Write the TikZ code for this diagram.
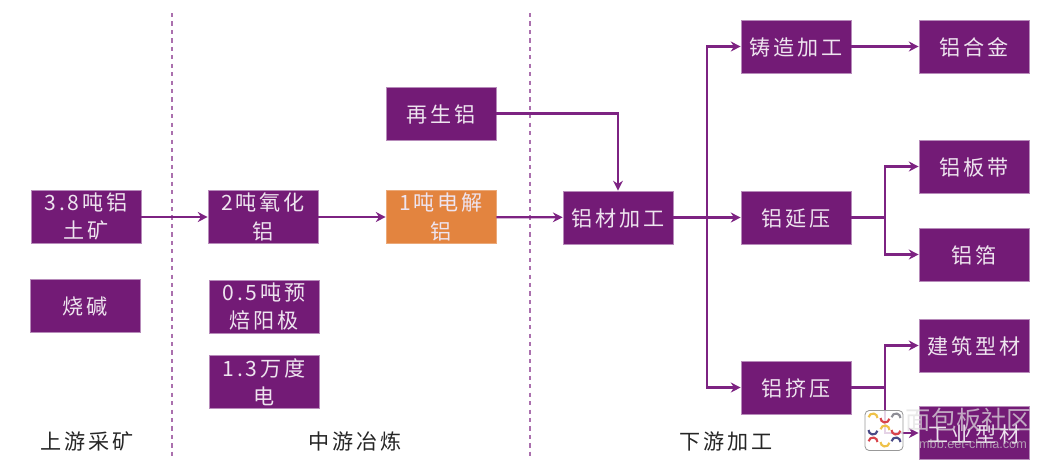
\documentclass[tikz,border=0pt]{standalone}
\usepackage{fontspec}
\newfontfamily\cjk[LetterSpace=14]{Noto Sans CJK SC}
\newfontfamily\cjkplain{Noto Sans CJK SC}
\setmainfont{Liberation Sans}
\usetikzlibrary{arrows.meta}

\definecolor{plum}{HTML}{731B76}
\definecolor{plumline}{HTML}{7D2382}
\definecolor{plumedge}{HTML}{B78BBA}
\definecolor{ingot}{HTML}{E3843F}
\definecolor{markgold}{HTML}{EFC24A}
\definecolor{markred}{HTML}{D8434B}
\definecolor{markgrey}{HTML}{8E8E96}
\definecolor{markblue}{HTML}{4A4A86}

\tikzset{
	box/.style={rectangle, fill=plum, draw=plumedge, line width=.4pt, minimum width=2.75cm, minimum height=1.33cm, inner sep=0pt,
		align=center, text=white!88!plum, font=\cjk\fontsize{15}{20}\selectfont, execute at begin node=\rule{0pt}{14pt}},
	pairbox/.style={box, execute at begin node=\rule{0pt}{16.5pt}},
	hotbox/.style={pairbox, fill=ingot, draw=ingot!70!white},
	stage/.style={text=black!85, font=\cjk\fontsize{15}{18}\selectfont},
	link/.style={draw=plumline, line width=1.6pt, -{Stealth[length=7pt,width=7pt]}},
	wire/.style={draw=plumline, line width=1.6pt}
}

\begin{document}
\begin{tikzpicture}[x=.025cm,y=-.025cm]
	\useasboundingbox (0,0) rectangle (1042,462);

	% dashed stage borders
	\coordinate (topa) at (172,13);
	\coordinate (bota) at (172,458);
	\coordinate (topb) at (530,13);
	\coordinate (botb) at (530,458);
	\draw[plumline!65, line width=1pt, dashed] (topa) -- (bota);
	\draw[plumline!65, line width=1pt, dashed] (topb) -- (botb);

	% upstream
	\node[pairbox] (ore) at (86,216.5) {3.8吨铝\\土矿};
	\node[box] (soda) at (85,306) {烧碱};

	% midstream
	\node[pairbox] (alumina) at (263,217) {2吨氧化\\铝};
	\node[pairbox] (anode) at (264,306.5) {0.5吨预\\焙阳极};
	\node[pairbox] (power) at (264,382) {1.3万度\\电};
	\node[box] (scrap) at (441,113.5) {再生铝};
	\node[hotbox] (electro) at (441,217) {1吨电解\\铝};

	% downstream
	\node[box] (proc) at (618,217.5) {铝材加工};
	\node[box] (cast) at (796,46.5) {铸造加工};
	\node[box] (roll) at (796,217.5) {铝延压};
	\node[box] (extrude) at (796,387.5) {铝挤压};
	\node[box] (alloy) at (974,46.5) {铝合金};
	\node[box] (strip) at (974,166.5) {铝板带};
	\node[box] (foil) at (974,254.5) {铝箔};
	\node[box] (build) at (974,345.5) {建筑型材};
	\node[box] (indust) at (974,433) {工业型材};

	\node[stage] (stagea) at (87,441) {上游采矿};
	\node[stage] (stageb) at (355,441) {中游冶炼};
	\node[stage] (stagec) at (726,441) {下游加工};

	\coordinate (trunk) at (707,217.5);
	\coordinate (forka) at (885,217.5);
	\coordinate (forkb) at (885,387.5);

	\draw[link] (ore.east |- alumina) -- (alumina);
	\draw[link] (alumina) -- (electro);
	\draw[link] (electro) -- (proc);
	\draw[link] (scrap) -| (proc);
	\draw[link] (proc) -- (roll);
	\draw[link] (trunk) |- (cast);
	\draw[link] (trunk) |- (extrude);
	\draw[link] (cast) -- (alloy);
	\draw[wire] (roll) -- (forka);
	\draw[link] (forka) |- (strip);
	\draw[link] (forka) |- (foil);
	\draw[wire] (extrude) -- (forkb);
	\draw[link] (forkb) |- (build);
	\draw[link] (forkb) |- (indust);

	% mark in the lower right corner
	\node[rectangle, rounded corners=3pt, fill=white, fill opacity=.8, draw=black!40, line width=.6pt, minimum width=.95cm, minimum height=1cm, inner sep=0pt] (logo) at (884,430.5) {};
	\foreach \i/\j/\a/\c in {873/418/190/markgold, 885/418/10/markred, 896/418/190/markgrey, 873/430/10/markblue, 885/430/190/markgold, 896/430/10/markred, 873/442/190/markred, 885/442/10/markgold, 896/442/190/markblue}{
		\draw[\c, line width=1.5pt] (\i,\j) ++(\a:4.5) arc (\a:\a+170:4.5);
	}
	\node[opacity=.72, text=white!88!black, font=\cjkplain\fontsize{18}{20}\selectfont, inner sep=0pt] (wmark) at (969,420) {面包板社区};
	\node[opacity=.72, text=white!80!black, font=\fontsize{9}{10}\selectfont, inner sep=0pt] (wsite) at (973,444) {mbb.eet-china.com};
\end{tikzpicture}
\end{document}
